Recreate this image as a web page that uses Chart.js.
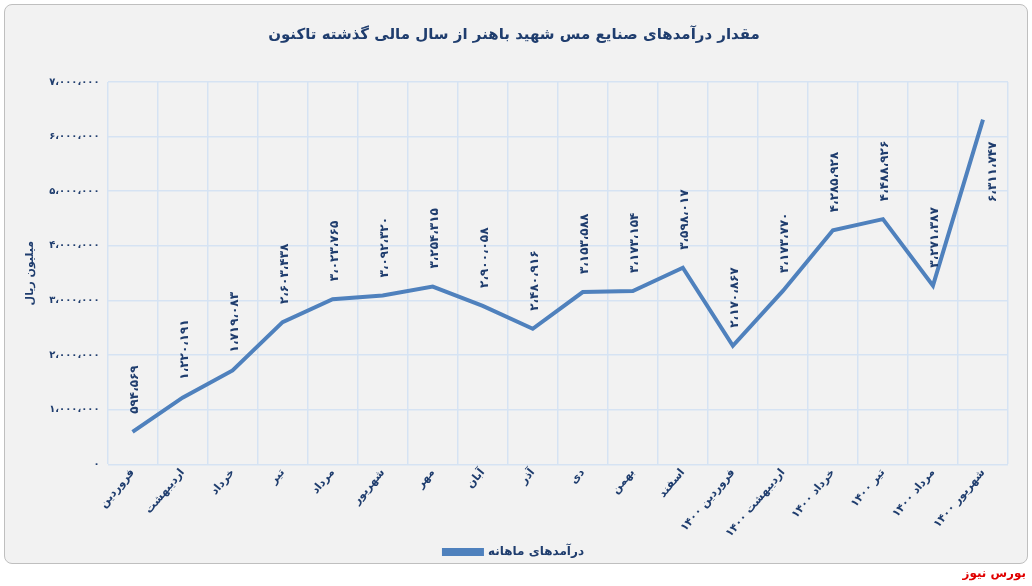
<!DOCTYPE html>
<html><head><meta charset="utf-8">
<script src="https://cdn.jsdelivr.net/npm/chart.js@4"></script>
<style>
html,body{margin:0;padding:0;background:#fff;overflow:hidden;}
#box{position:absolute;left:4px;top:4px;width:1022px;height:558px;border:1px solid #bfbfbf;border-radius:8px;background:#f2f2f2;}
#foot{position:absolute;right:6px;top:563px;color:#e00000;font:bold 12px 'DejaVu Sans';direction:rtl;line-height:20px;z-index:5;}
canvas{position:absolute;left:0;top:0;}
</style></head><body>
<div id="box"></div>
<canvas id="c" width="1032" height="586"></canvas>
<div id="foot">بورس نیوز</div>
<script>
const categories=["فروردین","اردیبهشت","خرداد","تیر","مرداد","شهریور","مهر","آبان","آذر","دی","بهمن","اسفند","فروردین ۱۴۰۰","اردیبهشت ۱۴۰۰","خرداد ۱۴۰۰","تیر ۱۴۰۰","مرداد ۱۴۰۰","شهریور ۱۴۰۰"];
const revenue=[594569,1220191,1719083,2603438,3023765,3092320,3254315,2900058,2480916,3153588,3173154,3598017,2170867,3173770,4285928,4488926,3271387,6311747];
const seriesName="درآمدهای ماهانه";
const titleText="مقدار درآمدهای صنایع مس شهید باهنر از سال مالی گذشته تاکنون";
const yTitle="میلیون ریال";
const fa=n=>Math.round(n).toLocaleString('en-US').replace(/,/g,'،').replace(/\d/g,d=>'۰۱۲۳۴۵۶۷۸۹'[d]);
const navy='#1f3d6e';
const labelPlugin={id:'lbl',afterDatasetsDraw(ch){const ctx=ch.ctx;const m=ch.getDatasetMeta(0);ctx.save();ctx.fillStyle=navy;ctx.font='bold 12px "DejaVu Sans"';ctx.textAlign='left';ctx.textBaseline='middle';
m.data.forEach((p,i)=>{const t=fa(revenue[i]);const w=ctx.measureText(t).width;ctx.save();
if(p.y-18-w<ch.chartArea.top){ctx.translate(p.x+10,p.y+22+w);}else{ctx.translate(p.x+2,p.y-18);}
ctx.rotate(-Math.PI/2);ctx.fillText(t,0,0);ctx.restore();});ctx.restore();}};
new Chart(document.getElementById('c'),{type:'line',
data:{labels:categories,datasets:[{label:seriesName,data:revenue,borderColor:'#4f81bd',backgroundColor:'#4f81bd',borderWidth:4,pointRadius:0,tension:0}]},
options:{responsive:false,animation:false,
layout:{padding:{left:20,right:24,top:8,bottom:18}},
plugins:{title:{display:true,text:titleText,color:navy,font:{family:'DejaVu Sans',size:15,weight:'bold'},padding:{top:18,bottom:38}},
legend:{position:'bottom',labels:{boxWidth:38,boxHeight:4,padding:4,color:navy,font:{family:'DejaVu Sans',size:12,weight:'bold'}}},tooltip:{enabled:false}},
scales:{x:{offset:true,grid:{offset:true,color:'#d6e3f3',lineWidth:1.5,drawTicks:false},border:{display:false},
ticks:{color:navy,maxRotation:50,minRotation:50,padding:2,font:{family:'DejaVu Sans',size:11,weight:'bold'}}},
y:{min:0,max:7000000,ticks:{stepSize:1000000,color:navy,padding:8,callback:v=>fa(v),font:{family:'DejaVu Sans',size:10,weight:'bold'}},
grid:{color:'#d6e3f3',lineWidth:1.5,drawTicks:false},border:{display:false},
title:{display:true,text:yTitle,color:navy,font:{family:'DejaVu Sans',size:11,weight:'bold'}}}}},
plugins:[labelPlugin]});
</script></body></html>
